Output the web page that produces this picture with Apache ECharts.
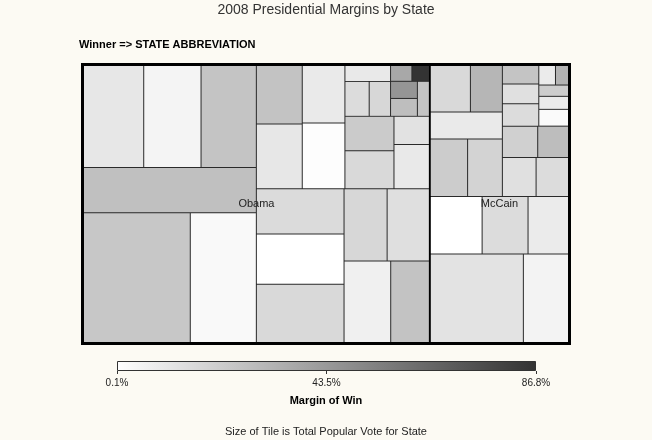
<!DOCTYPE html>
<html>
<head>
<meta charset="utf-8">
<script src="https://cdn.jsdelivr.net/npm/echarts@6/dist/echarts.min.js"></script>
<style>
html,body{margin:0;padding:0;background:#fcfaf3;}
#chart{width:652px;height:440px;}
</style>
</head>
<body>
<div id="chart"></div>
<script>
// ---- Data (total popular vote in millions, margin of win in %) ----
const obamaStates  = ['CA','FL','NY','PA','OH','IL','MI','NC','NJ','VA','MA','WA','WI','MN','IN','MD','CO','OR','CT','IA','NV','NM','ME','NH','RI','HI','DE','VT','DC'];
const obamaVotes   = [13.56,8.39,7.64,6.01,5.72,5.52,5.00,4.31,3.87,3.72,3.08,3.04,2.98,2.91,2.75,2.63,2.40,1.83,1.65,1.54,0.97,0.83,0.73,0.71,0.47,0.45,0.41,0.33,0.27];
const obamaMargins = [24.0,2.8,26.9,10.3,4.6,25.1,16.4,0.3,15.5,6.3,25.8,17.1,13.9,10.2,1.0,25.4,9.0,16.4,22.4,9.5,12.5,15.1,17.3,9.6,27.8,45.3,25.0,37.0,86.8];

const mccainStates  = ['TX','GA','MO','TN','AZ','AL','LA','SC','KY','OK','MS','KS','AR','UT','NE','WV','ID','MT','SD','AK','ND','WY'];
const mccainVotes   = [8.08,3.92,2.93,2.60,2.29,2.10,1.96,1.92,1.83,1.46,1.29,1.24,1.09,0.95,0.80,0.71,0.66,0.49,0.38,0.33,0.32,0.25];
const mccainMargins = [11.8,5.2,0.1,15.1,8.5,21.6,18.6,9.0,16.2,31.3,13.2,14.9,19.9,28.1,14.9,13.1,25.3,2.4,8.4,21.5,8.6,32.2];

const winners = ['Obama', 'McCain'];
const marginRange = [0.1, 86.8];
const colorRange = ['#ffffff', '#333333'];
const legendTickLabels = ['0.1%', '43.5%', '86.8%'];

// Tiling order (nesting of states inside each winner's block)
const obamaTiling = [
  [['PA','OH','IL'], 'NY', ['CA','FL']],
  [
    ['MD','MN','CO','IN',
      [
        [['NH',['NM','ME']], [['VT','DC'],['HI','RI','DE']]],
        ['CT','OR','NV','IA']
      ]
    ],
    [['NJ','NC','MI'], ['WA','WI','VA','MA']]
  ]
];
const mccainTiling = [
  [
    ['KY','OK','SC',['AL','LA']],
    [[['ID','WV','NE'], ['ND','WY',['AK',['SD','MT']]]], 'AR','UT','MS','KS']
  ],
  'MO','TN','AZ','TX','GA'
];

// ---- Build tree ----
const lookup = {};
obamaStates.forEach((s, i) => { lookup[s] = [obamaVotes[i], obamaMargins[i]]; });
mccainStates.forEach((s, i) => { lookup[s] = [mccainVotes[i], mccainMargins[i]]; });
let gid = 0;
function build(spec) {
  if (typeof spec === 'string') return { name: spec, value: lookup[spec].slice() };
  gid++;
  return { name: 'g' + gid, children: spec.map(build) };
}
const sum = a => a.reduce((x, y) => x + y, 0);
const treeData = [
  { name: winners[0], children: obamaTiling.map(build) },
  { name: winners[1], children: mccainTiling.map(build) }
];
const groupData = [
  { name: winners[0], value: sum(obamaVotes) },
  { name: winners[1], value: sum(mccainVotes) }
];

const FONT = "'Liberation Sans', Arial, sans-serif";
const box = { left: 81, top: 63, width: 490, height: 282 };

const chart = echarts.init(document.getElementById('chart'), null, { renderer: 'canvas' });
chart.setOption({
  backgroundColor: '#fcfaf3',
  animation: false,
  textStyle: { fontFamily: FONT },
  title: [
    { text: '2008 Presidential Margins by State', left: 'center', top: 3, padding: 0,
      textStyle: { fontSize: 14, fontWeight: 'normal', color: '#333', fontFamily: FONT } },
    { text: 'Winner => STATE ABBREVIATION', left: 79, top: 39, padding: 0,
      textStyle: { fontSize: 11, fontWeight: 'bold', color: '#000', fontFamily: FONT } },
    { text: 'Margin of Win', left: 'center', top: 395, padding: 0,
      textStyle: { fontSize: 11, fontWeight: 'bold', color: '#000', fontFamily: FONT } },
    { text: 'Size of Tile is Total Popular Vote for State', left: 'center', top: 426, padding: 0,
      textStyle: { fontSize: 11, fontWeight: 'normal', color: '#222', fontFamily: FONT } }
  ],
  grid: { left: 117, top: 361, width: 419, height: 10 },
  xAxis: {
    type: 'value', min: 0, max: legendTickLabels.length - 1, interval: 1,
    axisLine: { show: false },
    axisTick: { show: true, length: 3, lineStyle: { color: '#333', width: 1 } },
    splitLine: { show: false },
    axisLabel: { formatter: v => legendTickLabels[Math.round(v)], fontSize: 10, color: '#222', margin: 7, fontFamily: FONT }
  },
  yAxis: { type: 'category', data: ['scale'], show: false },
  series: [
    {
      type: 'treemap',
      ...box,
      z: 2,
      squareRatio: 1,
      sort: false,
      roam: false,
      nodeClick: false,
      silent: true,
      breadcrumb: { show: false },
      visualDimension: 1,
      visualMin: marginRange[0],
      visualMax: marginRange[1],
      colorMappingBy: 'value',
      color: colorRange,
      label: { show: false },
      upperLabel: { show: false },
      itemStyle: { borderWidth: 0, gapWidth: 1, borderColor: '#2a2a2a' },
      levels: [
        { color: colorRange, colorMappingBy: 'value', itemStyle: { borderWidth: 3, gapWidth: 2, borderColor: '#000' } }
      ],
      data: treeData
    },
    {
      type: 'treemap',
      ...box,
      z: 20,
      squareRatio: 1,
      sort: false,
      roam: false,
      nodeClick: false,
      silent: true,
      breadcrumb: { show: false },
      itemStyle: { color: 'rgba(0,0,0,0)', borderColor: 'rgba(0,0,0,0)', borderWidth: 0, gapWidth: 0 },
      levels: [
        { color: ['rgba(0,0,0,0)'], itemStyle: { borderWidth: 3, gapWidth: 2, borderColor: 'rgba(0,0,0,0)' } }
      ],
      label: { show: true, position: 'inside', color: '#222', fontSize: 11, fontFamily: FONT },
      upperLabel: { show: false },
      data: groupData
    },
    {
      type: 'bar',
      silent: true,
      barWidth: 10,
      data: [legendTickLabels.length - 1],
      itemStyle: {
        color: { type: 'linear', x: 0, y: 0, x2: 1, y2: 0,
                 colorStops: [{ offset: 0, color: colorRange[0] }, { offset: 1, color: colorRange[1] }] },
        borderColor: '#333', borderWidth: 1
      }
    }
  ]
});
</script>
</body>
</html>
